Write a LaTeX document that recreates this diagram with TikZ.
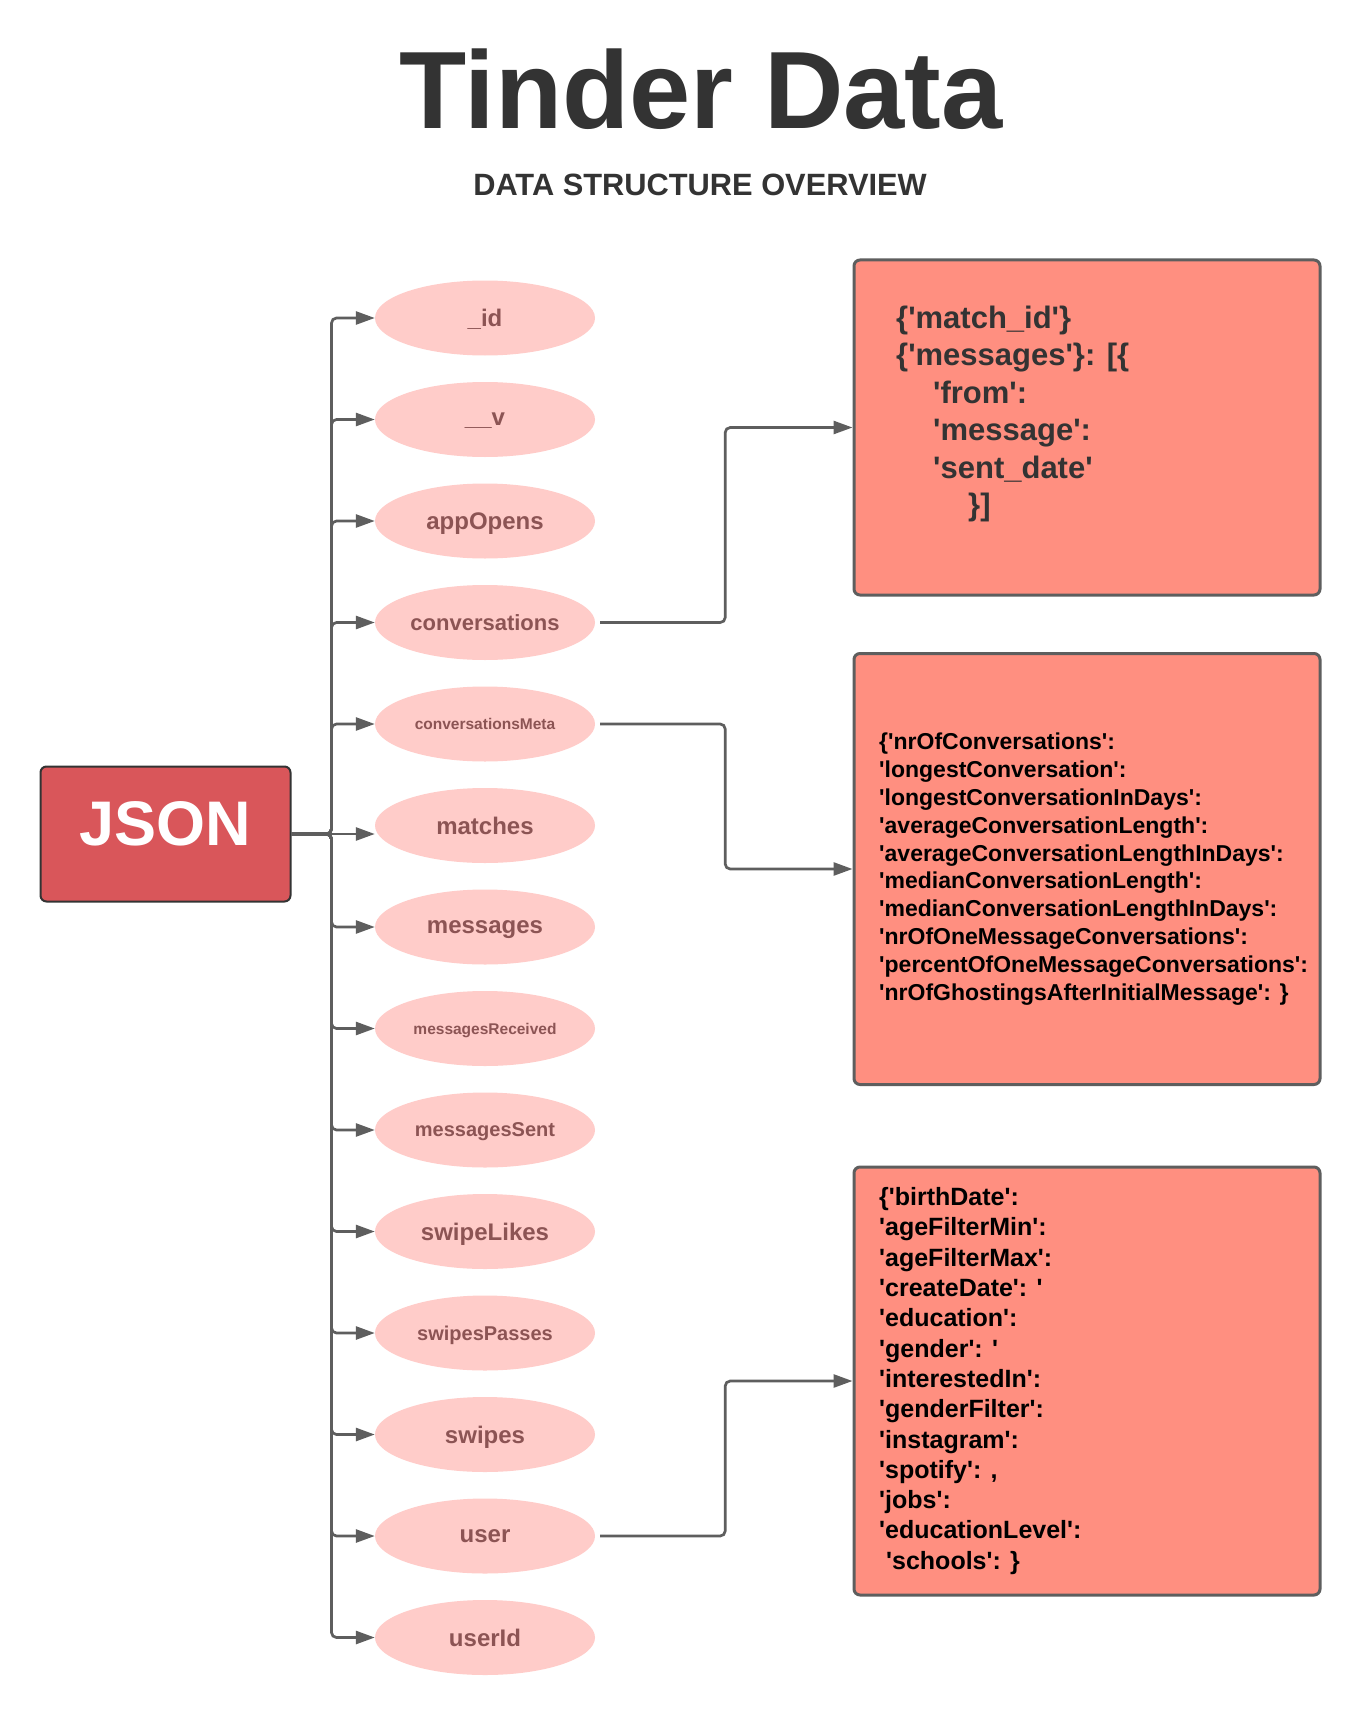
\documentclass[tikz,border=0pt]{standalone}
\usepackage{fontspec}
\setmainfont{Liberation Sans}
\usetikzlibrary{shapes.geometric,arrows.meta}
\definecolor{linkgray}{HTML}{5E5E5E}
\definecolor{keypink}{HTML}{FFCCC9}
\definecolor{keytext}{HTML}{8C5454}
\definecolor{jsonred}{HTML}{D9565A}
\definecolor{boxsalmon}{HTML}{FF8F80}
\definecolor{darktext}{HTML}{333333}
\newcommand{\sq}{\textquotesingle}
\tikzset{
  key/.style={ellipse, fill=keypink, minimum width=220pt, minimum height=75pt,
    inner sep=0pt, text=keytext, text depth=0pt},
  databox/.style={draw=linkgray, line width=3pt, fill=boxsalmon,
    rounded corners=6pt, minimum width=466pt},
  boxtext/.style={anchor=west, align=left, inner sep=0pt},
  link/.style={draw=linkgray, line width=2.7pt, rounded corners=5pt,
    -{Triangle[length=19pt,width=13pt]}}
}
\begin{document}
\begin{tikzpicture}[x=1pt,y=-1pt]
\fill[white] (0,0) rectangle (1360,1720);
\useasboundingbox (0,0) rectangle (1360,1720);
\node[anchor=base, text=darktext, font=\bfseries\fontsize{110}{110}\selectfont] (title) at (701,129) {Tinder Data};
\node[anchor=base, text=darktext, font=\bfseries\fontsize{30.8}{30.8}\selectfont] (subtitle) at (700,196) {DATA STRUCTURE OVERVIEW};
\node[draw=darktext, line width=2pt, fill=jsonred, rounded corners=6pt, minimum width=250pt, minimum height=135pt,
  text=white, text depth=21pt, font=\bfseries\fontsize{63}{63}\selectfont] (json) at (165.5,834) {JSON};
\foreach \name/\txt/\fs [count=\i from 0] in {id/\_id/24, v/\_\_v/24, appopens/appOpens/24,
  conv/conversations/22, convmeta/conversationsMeta/15.5, matches/matches/24, msgs/messages/24,
  msgsrecv/messagesReceived/15.5, msgssent/messagesSent/20, swipelikes/swipeLikes/24,
  swipespasses/swipesPasses/20, swipes/swipes/24, user/user/24, userid/userId/24}
  \node[key, font=\bfseries\fontsize{\fs}{\fs}\selectfont] (\name) at (485,{318+101.5*\i}) {\txt};
\foreach \name in {id,v,appopens,conv,convmeta,msgs,msgsrecv,msgssent,swipelikes,swipespasses,swipes,user,userid}
  \draw[link] (json.east) -- ++(40,0) |- (\name.west);
\draw[link] (json.east) -- (matches.west |- json.east);
\node[databox, minimum height=335pt] (msgbox) at (1087,427.5) {};
\node[databox, minimum height=431pt] (metabox) at (1087,869) {};
\node[databox, minimum height=428pt] (userbox) at (1087,1381) {};
\node[boxtext, text=darktext, font=\bfseries\fontsize{31}{37.5}\selectfont] (msgtext) at (896,414)
  {\{\sq match\_id\sq\}\\
   \{\sq messages\sq\}: [\{\\
   \hspace*{37pt}\sq from\sq:\\
   \hspace*{37pt}\sq message\sq:\\
   \hspace*{37pt}\sq sent\_date\sq\\
   \hspace*{72pt}\}]};
\node[boxtext, text=black, font=\bfseries\fontsize{23}{27.8}\selectfont] (metatext) at (879,869)
  {\{\sq nrOfConversations\sq:\\
   \sq longestConversation\sq:\\
   \sq longestConversationInDays\sq:\\
   \sq averageConversationLength\sq:\\
   \sq averageConversationLengthInDays\sq:\\
   \sq medianConversationLength\sq:\\
   \sq medianConversationLengthInDays\sq:\\
   \sq nrOfOneMessageConversations\sq:\\
   \sq percentOfOneMessageConversations\sq:\\
   \sq nrOfGhostingsAfterInitialMessage\sq: \}};
\node[boxtext, text=black, font=\bfseries\fontsize{25}{30.3}\selectfont] (usertext) at (879,1381)
  {\{\sq birthDate\sq:\\
   \sq ageFilterMin\sq:\\
   \sq ageFilterMax\sq:\\
   \sq createDate\sq: \sq\\
   \sq education\sq:\\
   \sq gender\sq: \sq\\
   \sq interestedIn\sq:\\
   \sq genderFilter\sq:\\
   \sq instagram\sq:\\
   \sq spotify\sq: ,\\
   \sq jobs\sq:\\
   \sq educationLevel\sq:\\
   \hspace*{7pt}\sq schools\sq: \}};
\draw[link, shorten <=5pt] (conv.east) -- ++(130,0) |- (msgbox.west);
\draw[link, shorten <=5pt] (convmeta.east) -- ++(130,0) |- (metabox.west);
\draw[link, shorten <=5pt] (user.east) -- ++(130,0) |- (userbox.west);
\end{tikzpicture}
\end{document}
